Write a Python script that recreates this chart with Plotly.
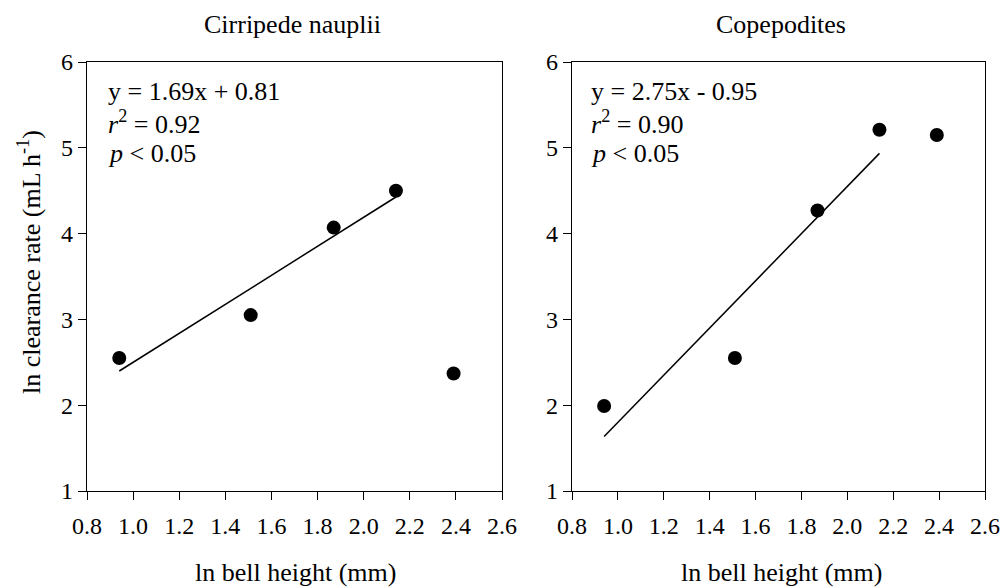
import plotly.graph_objects as go

x_vals = [0.94, 1.51, 1.87, 2.14, 2.39]
nauplii_y = [2.55, 3.05, 4.07, 4.50, 2.37]
copepod_y = [1.99, 2.55, 4.27, 5.21, 5.15]
fit_x = [0.94, 2.14]
nauplii_fit = (1.69, 0.81)
copepod_fit = (2.75, -0.95)
x_ticks = [0.8, 1.0, 1.2, 1.4, 1.6, 1.8, 2.0, 2.2, 2.4, 2.6]
y_ticks = [1, 2, 3, 4, 5, 6]

FONT = "Liberation Serif, Times New Roman, serif"
W, H = 1003, 588

def px(x):
    return x / W

def py(y):
    return 1 - y / H

fig = go.Figure()

def add_panel(idx, ys, fit):
    xa = "x" if idx == 1 else "x2"
    ya = "y" if idx == 1 else "y2"
    m, b = fit
    fig.add_trace(go.Scatter(x=fit_x, y=[m * v + b for v in fit_x], mode="lines",
                             line=dict(color="black", width=1.5), xaxis=xa, yaxis=ya,
                             showlegend=False, hoverinfo="skip"))
    fig.add_trace(go.Scatter(x=x_vals, y=ys, mode="markers",
                             marker=dict(color="black", size=14), xaxis=xa, yaxis=ya,
                             showlegend=False))

add_panel(1, nauplii_y, nauplii_fit)
add_panel(2, copepod_y, copepod_fit)

axis_common = dict(showline=True, linecolor="black", linewidth=1.2, mirror=True,
                   showgrid=False, zeroline=False, ticks="outside", ticklen=8,
                   tickcolor="black", tickwidth=1.2, automargin=False,
                   tickfont=dict(family=FONT, size=24, color="black"))

xaxis_extra = dict(range=[0.8, 2.6], tickvals=x_ticks,
                   ticktext=[f"{v:.1f}" for v in x_ticks], ticklabelstandoff=5)
yaxis_extra = dict(domain=[py(491), py(62)], range=[1, 6], tickvals=y_ticks)

fig.update_layout(
    template="none",
    width=W, height=H,
    margin=dict(l=0, r=0, t=0, b=0, autoexpand=False),
    font=dict(family=FONT, color="black"),
    paper_bgcolor="white", plot_bgcolor="white",
    xaxis=dict(domain=[px(87), px(502)], anchor="y", **xaxis_extra, **axis_common),
    yaxis=dict(anchor="x", **yaxis_extra, **axis_common),
    xaxis2=dict(domain=[px(572), px(985)], anchor="y2", **xaxis_extra, **axis_common),
    yaxis2=dict(anchor="x2", **yaxis_extra, **axis_common),
)

def ann(x, y, text, size=26, xanchor="left", angle=0):
    fig.add_annotation(x=px(x), y=py(y), xref="paper", yref="paper", text=text, showarrow=False,
                       xanchor=xanchor, yanchor="middle", textangle=angle,
                       font=dict(family=FONT, size=size, color="black"))

# Panel titles
ann(292, 24, "Cirripede nauplii", xanchor="center")
ann(781, 24, "Copepodites", xanchor="center")
# X axis titles
ann(295, 572, "ln bell height (mm)", xanchor="center")
ann(781, 572, "ln bell height (mm)", xanchor="center")
# Y title
ann(30, 262, "ln clearance rate (mL h<sup>-1</sup>)", xanchor="center", angle=-90)
# Stats
stats = [("y = %.2fx + %.2f" % nauplii_fit, "<i>r</i><sup>2</sup> = 0.92", "<i>p</i> &lt; 0.05"),
         ("y = %.2fx - %.2f" % (copepod_fit[0], -copepod_fit[1]), "<i>r</i><sup>2</sup> = 0.90", "<i>p</i> &lt; 0.05")]
for sx, lines in zip([106, 589], stats):
    for i, t in enumerate(lines):
        ann(sx, 91 + 31.5 * i, t)

fig.write_html("out.html", config={"displayModeBar": False},
               post_script="document.body.style.margin='0';document.body.style.overflow='hidden';")
